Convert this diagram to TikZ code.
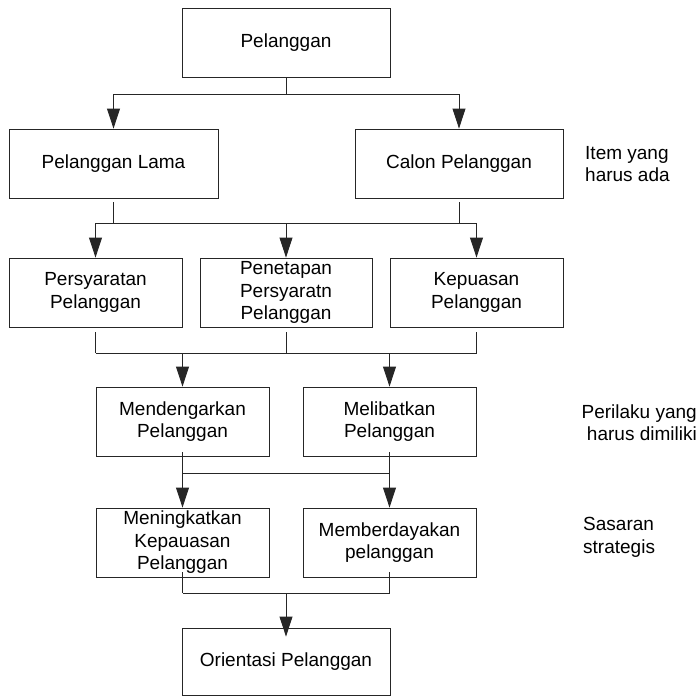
\documentclass[tikz,border=0pt]{standalone}
\usepackage{fontspec}
\setmainfont{Liberation Sans}
\usetikzlibrary{arrows.meta,calc}
\begin{document}
\begin{tikzpicture}[x=1pt,y=-1pt,
  every node/.style={font=\fontsize{19}{22.5}\selectfont},
  box/.style={draw=black!85,line width=0.9pt,rectangle,inner sep=0pt,align=center,minimum height=69pt},
  wide/.style={box,minimum width=208pt},
  narrow/.style={box,minimum width=173pt},
  conn/.style={draw=black!85,line width=0.9pt},
  arr/.style={conn,-{Triangle[length=20pt,width=13pt]}},
  side/.style={inner sep=0pt}]
\useasboundingbox (0,0) rectangle (697,697);
% boxes
\node[wide] (p0) at (286,42.5) {Pelanggan};
\node[wide,minimum width=209pt] (lama) at (113.5,163.5) {Pelanggan Lama};
\node[wide] (calon) at (459,163.5) {Calon Pelanggan};
\node[narrow] (syarat) at (95.5,292.5) {Persyaratan\\Pelanggan};
\node[narrow,minimum width=172pt] (tetap) at (286,292.5) {Penetapan\\Persyaratn\\Pelanggan};
\node[narrow] (puas) at (476.5,292.5) {Kepuasan\\Pelanggan};
\node[narrow] (dengar) at (182.5,421.5) {Mendengarkan\\Pelanggan};
\node[narrow] (libat) at (389.5,421.5) {Melibatkan\\Pelanggan};
\node[narrow] (tingkat) at (182.5,542.5) {Meningkatkan\\Kepauasan\\Pelanggan};
\node[narrow] (daya) at (389.5,542.5) {Memberdayakan\\pelanggan};
\node[wide,minimum height=67pt] (orient) at (286,661.5) {Orientasi Pelanggan};
% side labels
\node[side,align=left,anchor=west] (lbl1) at (585,164) {Item yang\\harus ada};
\node[side,align=right,anchor=east] (lbl2) at (697,422.5) {Perilaku yang\\harus dimiliki};
\node[side,align=left,anchor=west] (lbl3) at (583,537.5) {Sasaran\\strategis};
% junctions
\coordinate (j1) at (286,94);
\coordinate (j2) at (286,223);
\coordinate (j3) at (286,353);
\coordinate (j4) at (286,473);
\coordinate (j5) at (286,593);
% level 1
\draw[conn] (p0.south) -- (j1);
\draw[arr] (j1) -| (lama.north);
\draw[arr] (j1) -| (calon.north);
% level 2
\draw[conn] ($(lama.south)+(0,4)$) -- (lama.south |- j2);
\draw[conn] ($(calon.south)+(0,4)$) -- (calon.south |- j2);
\draw[arr] (j2) -| (syarat.north);
\draw[arr] (j2) -| (puas.north);
\draw[arr] (j2) -- (tetap.north);
% level 3
\draw[conn] ($(syarat.south)+(0,5)$) -- (syarat.south |- j3);
\draw[conn] ($(tetap.south)+(0,5)$) -- (j3);
\draw[conn] ($(puas.south)+(0,5)$) -- (puas.south |- j3);
\draw[conn] (syarat.south |- j3) -- (puas.south |- j3);
\draw[arr] (dengar.north |- j3) -- (dengar.north);
\draw[arr] (libat.north |- j3) -- (libat.north);
% level 4
\draw[conn] ($(dengar.south)+(0,-4)$) -- (dengar.south |- j4);
\draw[conn] ($(libat.south)+(0,-4)$) -- (libat.south |- j4);
\draw[conn] (dengar.south |- j4) -- (libat.south |- j4);
\draw[arr] (dengar.south |- j4) -- (tingkat.north);
\draw[arr] (libat.south |- j4) -- (daya.north);
% level 5
\draw[conn] ($(tingkat.south)+(0,-5)$) -- (tingkat.south |- j5);
\draw[conn] ($(daya.south)+(0,-5)$) -- (daya.south |- j5);
\draw[conn] (tingkat.south |- j5) -- (daya.south |- j5);
\draw[arr] (j5) -- ($(orient.north)+(0,9)$);
\end{tikzpicture}
\end{document}
